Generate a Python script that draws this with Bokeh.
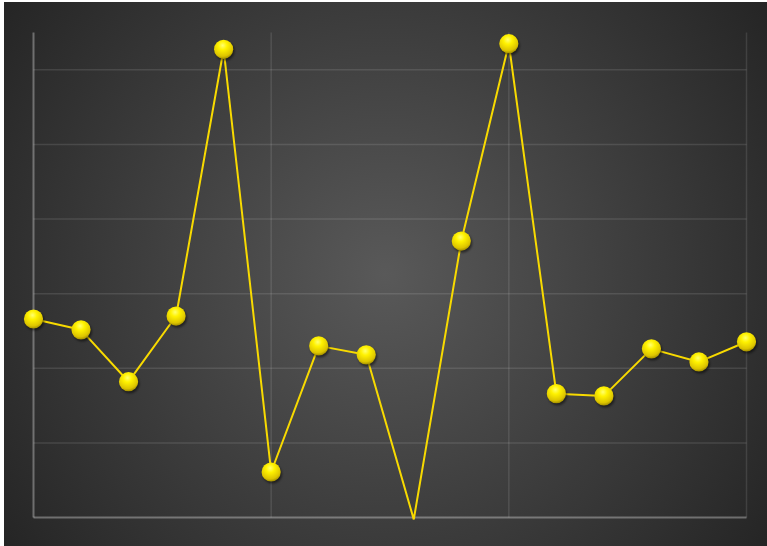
from urllib.parse import quote

from bokeh.core.properties import value
from bokeh.embed import file_html
from bokeh.layouts import column, row
from bokeh.models import BooleanFilter, CDSView, ColumnDataSource, Range1d, Spacer
from bokeh.plotting import figure
from bokeh.resources import INLINE

# ---- data -------------------------------------------------------------
x_index = list(range(16))
series_values = [53.2, 50.3, 36.4, 54.0, 125.5, 12.2, 46.0, 43.6, -0.5,
                 74.1, 127.0, 33.2, 32.6, 45.2, 41.7, 47.1]
y_ticks = [0, 20, 40, 60, 80, 100, 120]
x_ticks = [0, 5, 10, 15]
y_min, y_max = 0, 130
x_min, x_max = 0, 15

# ---- layout (pixels) --------------------------------------------------
W, H = 763, 544
PAD_L, PAD_R, PAD_T, PAD_B = 29, 21, 30, 29

plot_w = W - PAD_L - PAD_R
plot_h = H - PAD_T - PAD_B
dx = (x_max - x_min) / plot_w
dy = (y_max - y_min) / plot_h

p = figure(
    width=W, height=H,
    x_range=Range1d(x_min - PAD_L * dx, x_max + PAD_R * dx),
    y_range=Range1d(y_min - PAD_B * dy, y_max + PAD_T * dy),
    output_backend="svg", toolbar_location=None,
    min_border=0, min_border_left=0, min_border_right=0,
    min_border_top=0, min_border_bottom=0,
)
p.axis.visible = False
p.grid.visible = False
p.outline_line_color = None
p.background_fill_alpha = 0
p.border_fill_alpha = 0
p.styles = {
    "background": "radial-gradient(circle 468px at 50% 50%, #595959 0%, #252525 100%)",
}

# grid lines, limited to the plotting area
hy = [t for t in y_ticks if t > y_min]
p.segment(x0=[x_min] * len(hy), x1=[x_max] * len(hy), y0=hy, y1=hy,
          line_color="white", line_alpha=0.11, line_width=1.5)
vx = [t for t in x_ticks if t > x_min]
p.segment(x0=vx, x1=vx, y0=[y_min] * len(vx), y1=[y_max] * len(vx),
          line_color="white", line_alpha=0.11, line_width=1.5)

# axis lines
p.segment(x0=[x_min, x_min], x1=[x_min, x_max], y0=[y_min, y_min], y1=[y_max, y_min],
          line_color="white", line_alpha=0.32, line_width=2)

# series line
src = ColumnDataSource(dict(x=x_index, y=series_values))
p.line("x", "y", source=src, line_color="#f8da00", line_width=2)

# spherical markers, shown only inside the plotting area
sphere_svg = (
    "<svg xmlns='http://www.w3.org/2000/svg' width='32' height='32'>"
    "<defs>"
    "<radialGradient id='g' cx='0.45' cy='0.3' r='0.75'>"
    "<stop offset='0' stop-color='#ffff70'/>"
    "<stop offset='0.3' stop-color='#fff200'/>"
    "<stop offset='0.75' stop-color='#dcc400'/>"
    "<stop offset='1' stop-color='#8c7a00'/>"
    "</radialGradient>"
    "<filter id='b' x='-50%' y='-50%' width='200%' height='200%'>"
    "<feGaussianBlur stdDeviation='1.3'/></filter>"
    "</defs>"
    "<circle cx='17.3' cy='18' r='9.6' fill='black' opacity='0.5' filter='url(#b)'/>"
    "<circle cx='16' cy='16' r='9.6' fill='url(#g)'/>"
    "</svg>"
)
sphere_uri = "data:image/svg+xml;charset=utf-8," + quote(sphere_svg)

inside = [y_min <= v <= y_max for v in series_values]
p.image_url(url=value(sphere_uri), x="x", y="y", w=32, h=32,
            w_units="screen", h_units="screen", anchor="center",
            source=src, view=CDSView(filter=BooleanFilter(inside)))

page = column(Spacer(height=2), row(Spacer(width=4), p))
open("out.html", "w").write(file_html(page, INLINE))
